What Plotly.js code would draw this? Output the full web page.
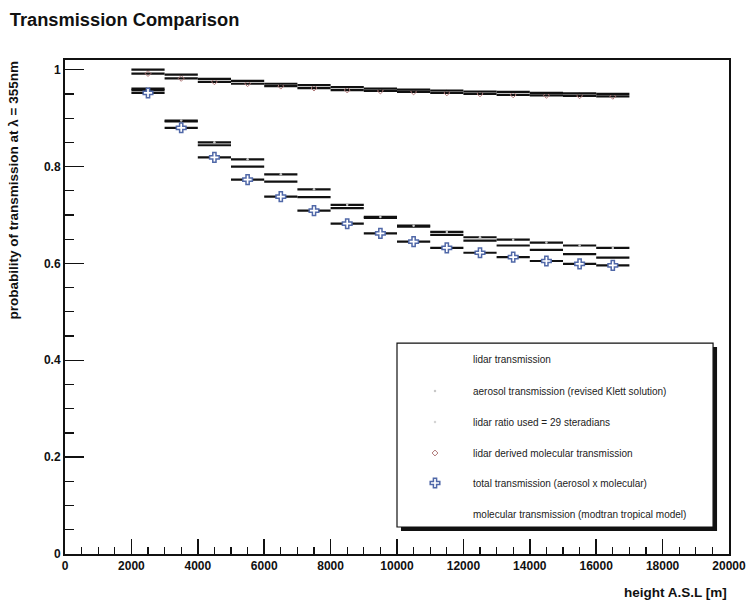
<!DOCTYPE html>
<html>
<head>
<meta charset="utf-8">
<script src="https://cdn.plot.ly/plotly-3.0.1.min.js"></script>
<style>html,body{margin:0;padding:0;background:#fff;}#chart{width:750px;height:604px;}</style>
</head>
<body>
<div id="chart"></div>
<script>
// bin centres (height A.S.L. [m]) and half bin width
const heights = [2500, 3500, 4500, 5500, 6500, 7500, 8500, 9500, 10500, 11500, 12500, 13500, 14500, 15500, 16500];
const halfBin = [500, 500, 500, 500, 500, 500, 500, 500, 500, 500, 500, 500, 500, 500, 500];

const lidarTransmission = [0.958, 0.893, 0.844, 0.800, 0.769, 0.737, 0.714, 0.694, 0.676, 0.659, 0.647, 0.637, 0.628, 0.619, 0.612];
const aerosolTransmission = [0.961, 0.895, 0.850, 0.815, 0.784, 0.753, 0.721, 0.696, 0.678, 0.665, 0.654, 0.649, 0.643, 0.637, 0.632];
const lidarRatioX = [null];
const lidarRatioY = [null];
const lidarMolecular = [0.992, 0.982, 0.975, 0.971, 0.966, 0.962, 0.958, 0.956, 0.954, 0.952, 0.950, 0.948, 0.947, 0.946, 0.945];
const totalTransmission = [0.952, 0.880, 0.819, 0.773, 0.738, 0.709, 0.682, 0.662, 0.645, 0.632, 0.622, 0.613, 0.605, 0.599, 0.596];
const modtranMolecular = [1.000, 0.990, 0.981, 0.977, 0.971, 0.968, 0.964, 0.961, 0.959, 0.957, 0.955, 0.954, 0.952, 0.951, 0.950];

const legendNames = [
  "lidar transmission",
  "aerosol transmission (revised Klett solution)",
  "lidar ratio used = 29 steradians",
  "lidar derived molecular transmission",
  "total transmission (aerosol x molecular)",
  "molecular transmission (modtran tropical model)"
];

function errX() {
  return {type: 'data', array: halfBin, symmetric: true, color: '#111', thickness: 2.2, width: 0};
}

const legendIds = ['legend', 'legend2', 'legend3', 'legend4', 'legend5', 'legend6'];

const traces = [
  {x: heights, y: lidarTransmission, name: legendNames[0], legend: legendIds[0], mode: 'markers', type: 'scatter',
   marker: {size: 1, color: 'rgba(0,0,0,0)'}, error_x: errX()},
  {x: heights, y: aerosolTransmission, name: legendNames[1], legend: legendIds[1], mode: 'markers', type: 'scatter',
   marker: {size: 2.5, color: '#c8c8c8'}, error_x: errX()},
  {x: lidarRatioX, y: lidarRatioY, name: legendNames[2], legend: legendIds[2], mode: 'markers', type: 'scatter',
   marker: {size: 2.5, color: '#d4d4d4'}},
  {x: heights, y: lidarMolecular, name: legendNames[3], legend: legendIds[3], mode: 'markers', type: 'scatter',
   marker: {size: 4.5, symbol: 'diamond-open', color: '#b07878', line: {width: 1, color: '#b07878'}}, error_x: errX()},
  {x: heights, y: totalTransmission, name: legendNames[4], legend: legendIds[4], mode: 'markers', type: 'scatter',
   marker: {size: 8, symbol: 'cross', color: '#ffffff', line: {width: 1.5, color: '#5068a8'}}, error_x: errX()},
  {x: heights, y: modtranMolecular, name: legendNames[5], legend: legendIds[5], mode: 'markers', type: 'scatter',
   marker: {size: 1, color: 'rgba(0,0,0,0)'}, error_x: errX()}
];

const tickFont = {family: 'Liberation Sans, Arial, sans-serif', size: 12, color: '#111', weight: 'bold'};
const titleFont = {family: 'Liberation Sans, Arial, sans-serif', size: 13.5, color: '#111', weight: 'bold'};

const layout = {
  width: 750, height: 604,
  margin: {l: 65, r: 21, t: 60, b: 50, pad: 0},
  paper_bgcolor: '#ffffff', plot_bgcolor: '#ffffff',
  showlegend: true,
  title: {text: 'Transmission Comparison', x: 0.013, xanchor: 'left', y: 0.967, yanchor: 'middle',
          font: {family: 'Liberation Sans, Arial, sans-serif', size: 18.3, color: '#111', weight: 'bold'}},
  xaxis: {range: [0, 20000], tick0: 0, dtick: 2000, ticks: 'inside', ticklen: 15, tickwidth: 1.5, tickcolor: '#111',
          showline: true, linecolor: '#111', linewidth: 2, mirror: true, showgrid: false, zeroline: false,
          tickfont: tickFont, tickformat: 'd',
          minor: {dtick: 500, ticks: 'inside', ticklen: 7, tickwidth: 1.2, tickcolor: '#111', showgrid: false}},
  yaxis: {range: [0, 1.02], tick0: 0, dtick: 0.2, ticks: 'inside', ticklen: 19, tickwidth: 1.5, tickcolor: '#111',
          showline: true, linecolor: '#111', linewidth: 2, mirror: true, showgrid: false, zeroline: false,
          tickfont: tickFont,
          minor: {dtick: 0.05, ticks: 'inside', ticklen: 9, tickwidth: 1.2, tickcolor: '#111', showgrid: false}},
  shapes: [
    {type: 'rect', xref: 'paper', yref: 'paper', x0: 0.506, x1: 0.982, y0: 0.0466, y1: 0.419,
     fillcolor: '#111', line: {width: 0}, layer: 'above'},
    {type: 'rect', xref: 'paper', yref: 'paper', x0: 0.5, x1: 0.976, y0: 0.0547, y1: 0.427,
     fillcolor: '#ffffff', line: {width: 1.2, color: '#111'}, layer: 'above'}
  ],
  annotations: [
    {text: 'height A.S.L [m]', xref: 'paper', yref: 'paper', x: 1, y: -0.077, xanchor: 'right', yanchor: 'middle',
     showarrow: false, font: titleFont},
    {text: 'probability of transmission at λ = 355nm', xref: 'paper', yref: 'paper', x: -0.079, y: 1,
     xanchor: 'center', yanchor: 'top', textangle: -90, showarrow: false, font: titleFont}
  ]
};

// one single-entry legend per row, so the rows sit at the reference spacing
const rowPx = [359, 391, 422, 453, 483, 514];
const plotTop = 60, plotH = 494;
legendIds.forEach(function (id, i) {
  layout[id] = {x: 0.5, y: (plotTop + plotH - rowPx[i]) / plotH, xanchor: 'left', yanchor: 'middle',
    bgcolor: 'rgba(0,0,0,0)', borderwidth: 0, itemwidth: 66,
    font: {family: 'Liberation Sans, Arial, sans-serif', size: 10, color: '#222'}};
});

Plotly.newPlot('chart', traces, layout, {displayModeBar: false, staticPlot: true});
</script>
</body>
</html>
